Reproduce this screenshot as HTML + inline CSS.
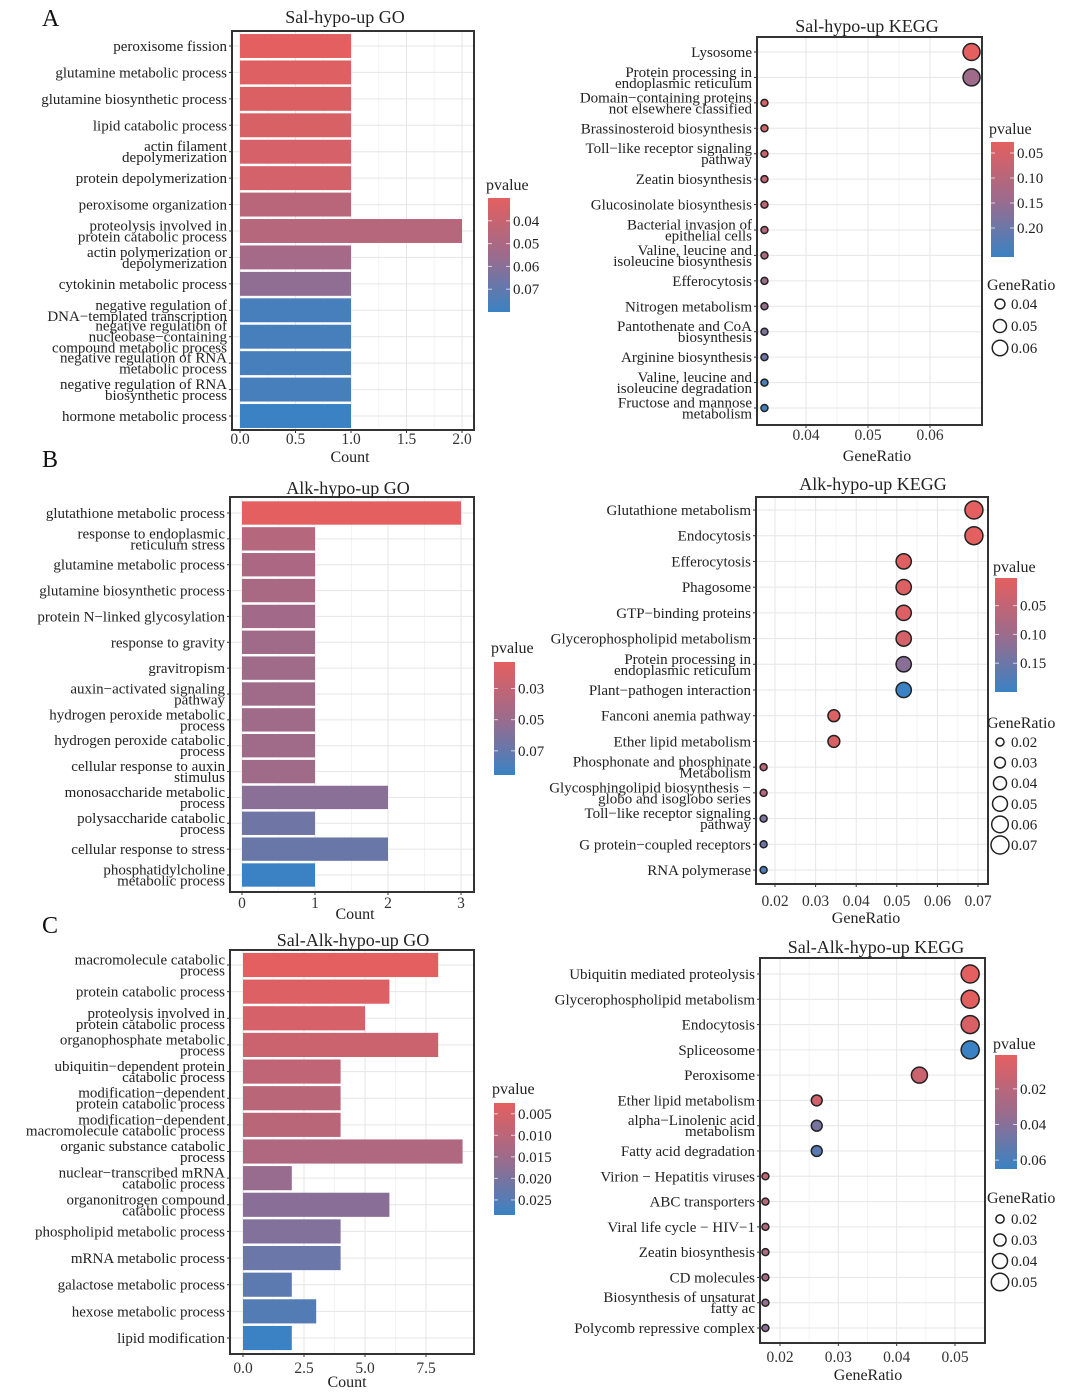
<!DOCTYPE html>
<html><head><meta charset="utf-8">
<style>
html,body{margin:0;padding:0;background:#fff;}
svg{display:block;font-family:"Liberation Serif",serif;}
</style></head>
<body>
<svg id="fig" xmlns="http://www.w3.org/2000/svg" width="1080" height="1398" viewBox="0 0 1080 1398">
<defs>
<linearGradient id="pgrad" x1="0" y1="0" x2="0" y2="1">
<stop offset="0" stop-color="#e45f5f"/><stop offset="0.5" stop-color="#9c6b8c"/><stop offset="1" stop-color="#3a82c3"/>
</linearGradient>
</defs>
<text x="42" y="26" font-size="24" fill="#111">A</text>
<text x="42" y="467" font-size="24" fill="#111">B</text>
<text x="42" y="933" font-size="24" fill="#111">C</text>
</svg>
<script>
// ---------- Panel A GO ----------
const aGoCategories = ["peroxisome fission","glutamine metabolic process","glutamine biosynthetic process","lipid catabolic process","actin filament\ndepolymerization","protein depolymerization","peroxisome organization","proteolysis involved in\nprotein catabolic process","actin polymerization or\ndepolymerization","cytokinin metabolic process","negative regulation of\nDNA\u2212templated transcription","negative regulation of\nnucleobase\u2212containing\ncompound metabolic process","negative regulation of RNA\nmetabolic process","negative regulation of RNA\nbiosynthetic process","hormone metabolic process"];
const aGoCounts = [1,1,1,1,1,1,1,2,1,1,1,1,1,1,1];
const aGoPvalues = [0.030,0.032,0.033,0.034,0.035,0.036,0.045,0.046,0.052,0.058,0.077,0.077,0.077,0.077,0.080];
const aGoTicks = [0,0.5,1,1.5,2];
const aGoTickLabels = ["0.0","0.5","1.0","1.5","2.0"];
const aGoLegendTicks = [0.04,0.05,0.06,0.07];

// ---------- Panel A KEGG ----------
const aKeggCategories = ["Lysosome","Protein processing in\nendoplasmic reticulum","Domain\u2212containing proteins\nnot elsewhere classified","Brassinosteroid biosynthesis","Toll\u2212like receptor signaling\npathway","Zeatin biosynthesis","Glucosinolate biosynthesis","Bacterial invasion of\nepithelial cells","Valine, leucine and\nisoleucine biosynthesis","Efferocytosis","Nitrogen metabolism","Pantothenate and CoA\nbiosynthesis","Arginine biosynthesis","Valine, leucine and\nisoleucine degradation","Fructose and mannose\nmetabolism"];
const aKeggRatios = [0.0667,0.0667,0.0333,0.0333,0.0333,0.0333,0.0333,0.0333,0.0333,0.0333,0.0333,0.0333,0.0333,0.0333,0.0333];
const aKeggPvalues = [0.028,0.14,0.045,0.055,0.065,0.075,0.085,0.10,0.11,0.14,0.15,0.18,0.20,0.24,0.258];
const aKeggTicks = [0.04,0.05,0.06];
const aKeggLegendTicks = [0.05,0.10,0.15,0.20];
const aKeggSizeTicks = [0.04,0.05,0.06];

// ---------- Panel B GO ----------
const bGoCategories = ["glutathione metabolic process","response to endoplasmic\nreticulum stress","glutamine metabolic process","glutamine biosynthetic process","protein N\u2212linked glycosylation","response to gravity","gravitropism","auxin\u2212activated signaling\npathway","hydrogen peroxide metabolic\nprocess","hydrogen peroxide catabolic\nprocess","cellular response to auxin\nstimulus","monosaccharide metabolic\nprocess","polysaccharide catabolic\nprocess","cellular response to stress","phosphatidylcholine\nmetabolic process"];
const bGoCounts = [3,1,1,1,1,1,1,1,1,1,1,2,1,2,1];
const bGoPvalues = [0.013,0.037,0.041,0.042,0.046,0.047,0.047,0.047,0.047,0.047,0.047,0.056,0.066,0.068,0.0855];
const bGoTicks = [0,1,2,3];
const bGoTickLabels = ["0","1","2","3"];
const bGoLegendTicks = [0.03,0.05,0.07];

// ---------- Panel B KEGG ----------
const bKeggCategories = ["Glutathione metabolism","Endocytosis","Efferocytosis","Phagosome","GTP\u2212binding proteins","Glycerophospholipid metabolism","Protein processing in\nendoplasmic reticulum","Plant\u2212pathogen interaction","Fanconi anemia pathway","Ether lipid metabolism","Phosphonate and phosphinate\nMetabolism","Glycosphingolipid biosynthesis \u2212\nglobo and isoglobo series","Toll\u2212like receptor signaling\npathway","G protein\u2212coupled receptors","RNA polymerase"];
const bKeggRatios = [0.0690,0.0690,0.0517,0.0517,0.0517,0.0517,0.0517,0.0517,0.0345,0.0345,0.0172,0.0172,0.0172,0.0172,0.0172];
const bKeggPvalues = [0.002,0.004,0.008,0.010,0.012,0.025,0.12,0.20,0.015,0.018,0.06,0.065,0.13,0.15,0.18];
const bKeggTicks = [0.02,0.03,0.04,0.05,0.06,0.07];
const bKeggLegendTicks = [0.05,0.10,0.15];
const bKeggSizeTicks = [0.02,0.03,0.04,0.05,0.06,0.07];

// ---------- Panel C GO ----------
const cGoCategories = ["macromolecule catabolic\nprocess","protein catabolic process","proteolysis involved in\nprotein catabolic process","organophosphate metabolic\nprocess","ubiquitin\u2212dependent protein\ncatabolic process","modification\u2212dependent\nprotein catabolic process","modification\u2212dependent\nmacromolecule catabolic process","organic substance catabolic\nprocess","nuclear\u2212transcribed mRNA\ncatabolic process","organonitrogen compound\ncatabolic process","phospholipid metabolic process","mRNA metabolic process","galactose metabolic process","hexose metabolic process","lipid modification"];
const cGoCounts = [8,6,5,8,4,4,4,9,2,6,4,4,2,3,2];
const cGoPvalues = [0.0025,0.004,0.005,0.007,0.009,0.010,0.010,0.012,0.016,0.018,0.019,0.022,0.024,0.025,0.0285];
const cGoTicks = [0,2.5,5,7.5];
const cGoTickLabels = ["0.0","2.5","5.0","7.5"];
const cGoLegendTicks = [0.005,0.010,0.015,0.020,0.025];

// ---------- Panel C KEGG ----------
const cKeggCategories = ["Ubiquitin mediated proteolysis","Glycerophospholipid metabolism","Endocytosis","Spliceosome","Peroxisome","Ether lipid metabolism","alpha\u2212Linolenic acid\nmetabolism","Fatty acid degradation","Virion \u2212 Hepatitis viruses","ABC transporters","Viral life cycle \u2212 HIV\u22121","Zeatin biosynthesis","CD molecules","Biosynthesis of unsaturat\nfatty ac","Polycomb repressive complex"];
const cKeggRatios = [0.0526,0.0526,0.0526,0.0526,0.0439,0.0263,0.0263,0.0263,0.0175,0.0175,0.0175,0.0175,0.0175,0.0175,0.0175];
const cKeggPvalues = [0.001,0.002,0.006,0.065,0.012,0.010,0.045,0.055,0.015,0.020,0.022,0.025,0.028,0.035,0.038];
const cKeggTicks = [0.02,0.03,0.04,0.05];
const cKeggLegendTicks = [0.02,0.04,0.06];
const cKeggSizeTicks = [0.02,0.03,0.04,0.05];

const NS = "http://www.w3.org/2000/svg";
const svg = document.getElementById("fig");
function mk(tag, attrs, parent){const e=document.createElementNS(NS,tag);for(const k in attrs)e.setAttribute(k,attrs[k]);(parent||svg).appendChild(e);return e;}
const stops=[[228,95,95],[156,107,140],[58,130,195]];
function pcolor(t){t=Math.max(0,Math.min(1,t));let a,b,u;if(t<0.5){a=stops[0];b=stops[1];u=t/0.5;}else{a=stops[1];b=stops[2];u=(t-0.5)/0.5;}
 return "rgb("+a.map((v,i)=>Math.round(v+(b[i]-v)*u)).join(",")+")";}
function linear(d0,d1,r0,r1){return v=>r0+(v-d0)/(d1-d0)*(r1-r0);}
function lbl(g,x,y,txt,anchor,size,name){
 const lines=txt.split("\n");const lh=11;const t=mk("text",{x:x,"text-anchor":anchor,"font-size":size,fill:"#222"},g);
 
 
 lines.forEach((ln,i)=>{const ts=mk("tspan",{x:x,y:y+5+(i-(lines.length-1)/2)*lh},t);ts.textContent=ln;});
 return t;}
function frame(g,c){
 const xs=linear(c.xa[0],c.xa[1],c.xa[2],c.xa[3]);
 const ticks=c.ticks;
 for(let i=0;i<ticks.length-1;i++){const mx=xs((ticks[i]+ticks[i+1])/2);const gl=mk("line",{x1:mx,x2:mx,y1:c.box[1],y2:c.box[3],stroke:"#f3f3f3","stroke-width":1},g);}
 ticks.forEach(v=>{const gl=mk("line",{x1:xs(v),x2:xs(v),y1:c.box[1],y2:c.box[3],stroke:"#e6e6e6","stroke-width":1},g);});
 const n=c.cats.length;const ys=i=>c.rows[0]+i*(c.rows[1]-c.rows[0])/(n-1);
 for(let i=0;i<n;i++){const gl=mk("line",{x1:c.box[0],x2:c.box[2],y1:ys(i),y2:ys(i),stroke:"#e6e6e6","stroke-width":1},g);}
 return {xs,ys};
}
function axes(g,c,xs,ys,tickLabels){
 const b=mk("rect",{x:c.box[0],y:c.box[1],width:c.box[2]-c.box[0],height:c.box[3]-c.box[1],fill:"none",stroke:"#333","stroke-width":2},g);
 
 
 c.cats.forEach((cat,i)=>{
  const tk=mk("line",{x1:c.box[0]-3,x2:c.box[0],y1:ys(i),y2:ys(i),stroke:"#333","stroke-width":1},g);
  
  
  lbl(g,c.box[0]-5,ys(i),cat,"end",15,"y-tick-label");
 });
 c.ticks.forEach((v,i)=>{
  const tk=mk("line",{x1:xs(v),x2:xs(v),y1:c.box[3],y2:c.box[3]+3,stroke:"#333","stroke-width":1},g);
  
  
  const t=mk("text",{x:xs(v),y:c.tickY,"text-anchor":"middle","font-size":15.5,fill:"#333"},g);
  
  
  t.textContent=tickLabels?tickLabels[i]:String(v);
 });
 const tt=mk("text",{x:c.title[0],y:c.title[1],"text-anchor":"middle","font-size":18,fill:"#222"},g);
 
 
 tt.textContent=c.titleText;
 const xl=mk("text",{x:c.xlab[0],y:c.xlab[1],"text-anchor":"middle","font-size":16,fill:"#222"},g);
 
 
 xl.textContent=c.xlabText;
}
function colorbar(g,c,pv,legendTicks,fmt){
 const pmin=Math.min(...pv),pmax=Math.max(...pv);
 const L=c.leg;
 const t=mk("text",{x:L.tx,y:L.ty,"font-size":16,fill:"#222"},g);
 
 
 t.textContent="pvalue";
 const r=mk("rect",{x:L.x0,y:L.y0,width:L.x1-L.x0,height:L.y1-L.y0,fill:"url(#pgrad)"},g);
 
 
 const ps=linear(pmin,pmax,L.y0,L.y1);
 legendTicks.forEach(v=>{
  const y=ps(v);
  mk("line",{x1:L.x0,x2:L.x0+4,y1:y,y2:y,stroke:"#fff","stroke-width":1,opacity:0.7},g);
  mk("line",{x1:L.x1-4,x2:L.x1,y1:y,y2:y,stroke:"#fff","stroke-width":1,opacity:0.7},g);
  const tx=mk("text",{x:L.x1+3,y:y+5,"font-size":15,fill:"#222"},g);
  
  
  tx.textContent=v.toFixed(fmt);
 });
 return v=>pcolor((v-pmin)/(pmax-pmin));
}
function barChart(c,counts,pv,legendTicks,fmt,tickLabels){
 const g=mk("g",{});
 
 
 const {xs,ys}=frame(g,c);
 const col=colorbar(g,c,pv,legendTicks,fmt);
 const n=c.cats.length;const bh=(c.rows[1]-c.rows[0])/(n-1)-2.5;
 counts.forEach((v,i)=>{
  const r=mk("rect",{x:xs(0),y:ys(i)-bh/2,width:xs(v)-xs(0),height:bh,fill:col(pv[i])},g);
  
  
 });
 axes(g,c,xs,ys,tickLabels);
}
function dotChart(c,ratios,pv,legendTicks,fmt,sizeTicks){
 const g=mk("g",{});
 
 
 const {xs,ys}=frame(g,c);
 const col=colorbar(g,c,pv,legendTicks,fmt);
 const rmin=Math.min(...ratios),rmax=Math.max(...ratios);
 const rs=v=>Math.sqrt(c.ra[0]*c.ra[0]+(v-rmin)/(rmax-rmin)*(c.ra[1]*c.ra[1]-c.ra[0]*c.ra[0]));
 ratios.forEach((v,i)=>{
  const d=mk("circle",{cx:xs(v),cy:ys(i),r:rs(v),fill:col(pv[i]),stroke:"#222","stroke-width":1.5},g);
  
  
 });
 axes(g,c,xs,ys,null);
 const S=c.size;
 const t=mk("text",{x:S.tx,y:S.ty,"font-size":16,fill:"#222"},g);
 
 
 t.textContent="GeneRatio";
 sizeTicks.forEach((v,i)=>{
  const y=S.y0+i*S.dy;
  const rr=Math.max(4,Math.min(9,rs(v)));
  const ci=mk("circle",{cx:S.cx,cy:y,r:rr,fill:"none",stroke:"#222","stroke-width":1.5},g);
  
  
  const tx=mk("text",{x:S.cx+11,y:y+5,"font-size":15,fill:"#222"},g);
  
  
  tx.textContent=v.toFixed(2);
 });
}

barChart({name:"sal-hypo-go-chart",cats:aGoCategories,box:[232,31,474,430],xa:[0,2,240,462],rows:[46,416],ticks:aGoTicks,tickY:444,
 title:[345,23],titleText:"Sal-hypo-up GO",xlab:[350,462],xlabText:"Count",leg:{tx:486,ty:190,x0:488,x1:510,y0:198,y1:312}},
 aGoCounts,aGoPvalues,aGoLegendTicks,2,aGoTickLabels);
dotChart({name:"sal-hypo-kegg-chart",cats:aKeggCategories,box:[757,37,982,425],xa:[0.04,0.06,806,930],rows:[52,408],ticks:aKeggTicks,tickY:440,
 title:[867,32],titleText:"Sal-hypo-up KEGG",xlab:[877,461],xlabText:"GeneRatio",ra:[3.5,8.5],
 leg:{tx:989,ty:134,x0:991,x1:1014,y0:142,y1:257},size:{tx:987,ty:290,cx:1000,y0:304,dy:22}},
 aKeggRatios,aKeggPvalues,aKeggLegendTicks,2,aKeggSizeTicks);
barChart({name:"alk-hypo-go-chart",cats:bGoCategories,box:[230,497,474,892],xa:[0,3,242,461],rows:[513,875],ticks:bGoTicks,tickY:908,
 title:[348,494],titleText:"Alk-hypo-up GO",xlab:[355,919],xlabText:"Count",leg:{tx:491,ty:653,x0:494,x1:515,y0:662,y1:775}},
 bGoCounts,bGoPvalues,bGoLegendTicks,2,bGoTickLabels);
dotChart({name:"alk-hypo-kegg-chart",cats:bKeggCategories,box:[756,497,988,884],xa:[0.02,0.07,775,978],rows:[510,870],ticks:bKeggTicks,tickY:906,
 title:[873,490],titleText:"Alk-hypo-up KEGG",xlab:[866,923],xlabText:"GeneRatio",ra:[3.5,9],
 leg:{tx:993,ty:572,x0:995,x1:1017,y0:578,y1:692},size:{tx:987,ty:728,cx:1000,y0:742,dy:20.6}},
 bKeggRatios,bKeggPvalues,bKeggLegendTicks,2,bKeggSizeTicks);
barChart({name:"sal-alk-hypo-go-chart",cats:cGoCategories,box:[230,950,474,1354],xa:[0,7.5,243,426],rows:[965,1338],ticks:cGoTicks,tickY:1373,
 title:[353,946],titleText:"Sal-Alk-hypo-up GO",xlab:[347,1387],xlabText:"Count",leg:{tx:492,ty:1094,x0:494,x1:515,y0:1103,y1:1215}},
 cGoCounts,cGoPvalues,cGoLegendTicks,3,cGoTickLabels);
dotChart({name:"sal-alk-hypo-kegg-chart",cats:cKeggCategories,box:[760,958,985,1343],xa:[0.02,0.05,780,955],rows:[974,1328],ticks:cKeggTicks,tickY:1362,
 title:[876,953],titleText:"Sal-Alk-hypo-up KEGG",xlab:[868,1380],xlabText:"GeneRatio",ra:[3.5,9],
 leg:{tx:993,ty:1049,x0:995,x1:1017,y0:1055,y1:1169},size:{tx:987,ty:1203,cx:1000,y0:1219,dy:21}},
 cKeggRatios,cKeggPvalues,cKeggLegendTicks,2,cKeggSizeTicks);
</script>
</body></html>
